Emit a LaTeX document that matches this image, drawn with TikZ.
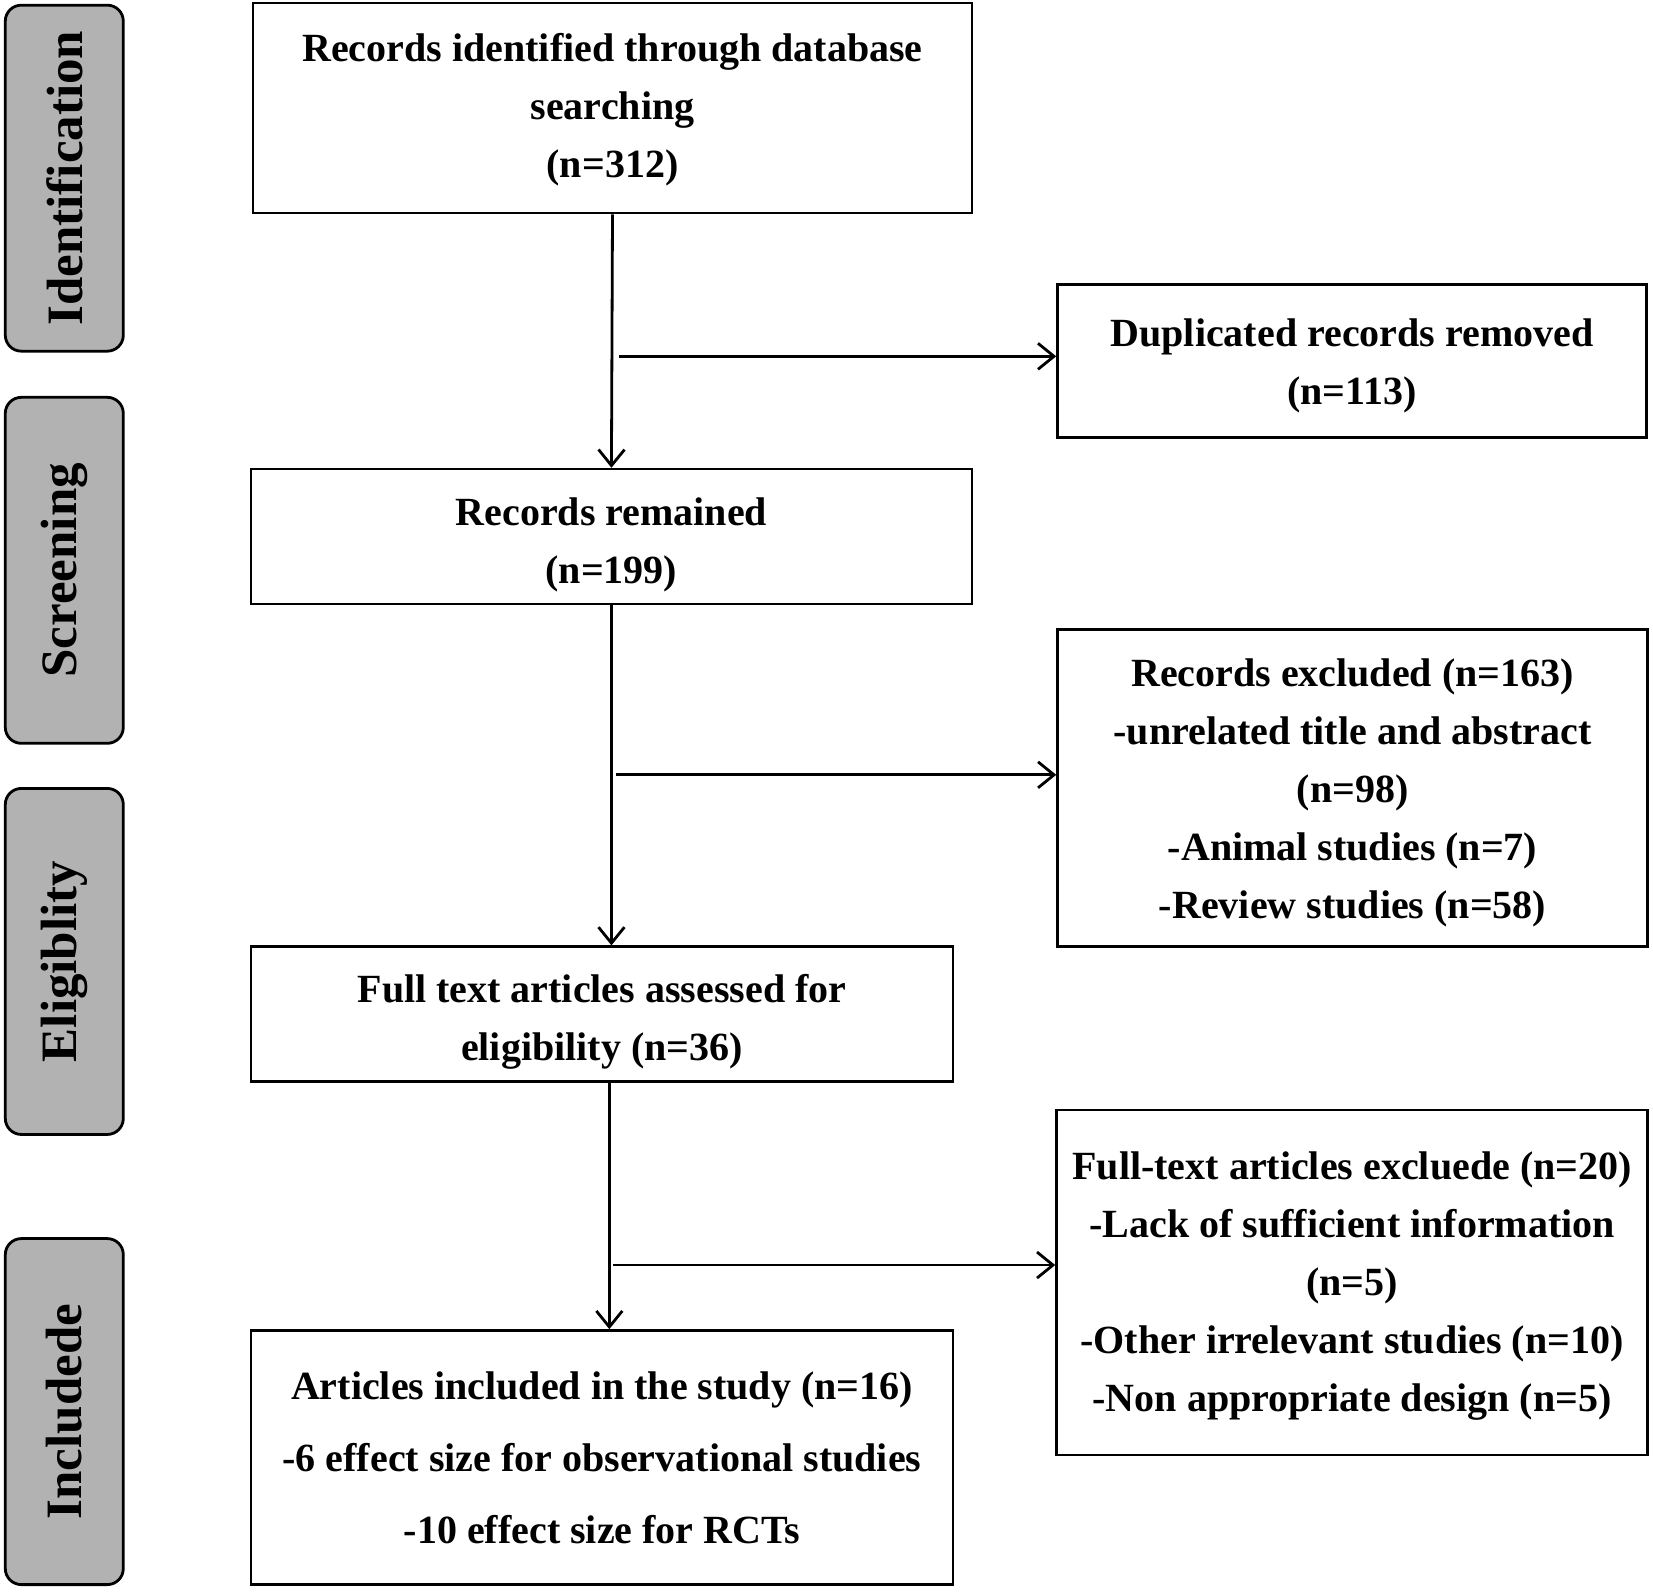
\documentclass[tikz,border=0pt]{standalone}
\usepackage{fontspec}
\setmainfont{Liberation Serif}
\usepackage{tikz}
\usetikzlibrary{arrows.meta}
\newcommand\boxfont{\fontsize{40}{58}\selectfont\bfseries}
\newcommand\sidefont{\fontsize{51}{60}\selectfont\bfseries}
\newcommand\topgap[1]{\rule{0pt}{#1}}

\begin{document}
\begin{tikzpicture}[x=1.0542pt,y=-1.0542pt,
  box/.style={draw,line width=2.6pt,align=center,inner sep=0pt,font=\boxfont},
  sidebox/.style={draw,line width=2.8pt,fill=black!30,rounded corners=16pt,
    minimum width=118pt,minimum height=346pt,inner sep=0pt},
  arr/.style={line width=2.8pt,-{Straight Barb[length=16pt,width=26pt,line width=2.8pt]}}]
\useasboundingbox (0,0) rectangle (1568,1509.2);
%\draw[help lines] (0,0)grid(1568,1509);
\draw (581,102.5)coordinate(a)
      (1282.5,342.5)coordinate(b)
      (580,509)coordinate(c)
      (1283,747.5)coordinate(d)
      (571,962)coordinate(e)
      (1282.5,1216.5)coordinate(f)
      (571,1382.5)coordinate(g)
      (587,338)coordinate(h)
      (584,735)coordinate(i)
      (578,1200)coordinate(j);
% side labels
\node[sidebox](s1) at (61,169){};
\node[sidebox](s2) at (61,541){};
\node[sidebox](s3) at (61,912){};
\node[sidebox](s4) at (61,1339){};
\node[rotate=90,font=\sidefont] at (s1){Identification};
\node[rotate=90,font=\sidefont] at (s2){Screening};
\node[rotate=90,font=\sidefont] at (s3){Eligiblity};
\node[rotate=90,font=\sidefont] at (s4){Includede};
% boxes
\node[box,minimum width=719pt,minimum height=210pt](id) at (a){\topgap{31pt}Records identified through database\\searching\\(n=312)};
\node[box,minimum width=589pt,minimum height=153pt](dup) at (b){\topgap{38pt}Duplicated records removed\\(n=113)};
\node[box,minimum width=721pt,minimum height=135pt](rem) at (c){\topgap{44pt}Records remained\\(n=199)};
\node[box,minimum width=590pt,minimum height=317pt](exc) at (d){\topgap{37pt}Records excluded (n=163)\\-unrelated title and abstract\\(n=98)\\-Animal studies (n=7)\\-Review studies (n=58)};
\node[box,minimum width=702pt,minimum height=135pt](full) at (e){\topgap{44pt}Full text articles assessed for\\eligibility (n=36)};
\node[box,minimum width=591pt,minimum height=345pt](fexc) at (f){\topgap{34pt}Full-text articles excluede (n=20)\\-Lack of sufficient information\\(n=5)\\-Other irrelevant studies (n=10)\\-Non appropriate design (n=5)};
\node[box,minimum width=702pt,minimum height=254pt,font=\fontsize{40}{72}\selectfont\bfseries](inc) at (g){Articles included in the study (n=16)\\-6 effect size for observational studies\\-10 effect size for RCTs};
% arrows
\draw[arr](id.south)--(rem.north);
\draw[arr](h)--(h-|dup.west);
\draw[arr](rem.south)--(rem.south|-full.north);
\draw[arr](i)--(i-|exc.west);
\draw[arr](j|-full.south)--(j|-inc.north);
\draw[arr]([xshift=4pt]j)--(j-|fexc.west);
\end{tikzpicture}
\end{document}
